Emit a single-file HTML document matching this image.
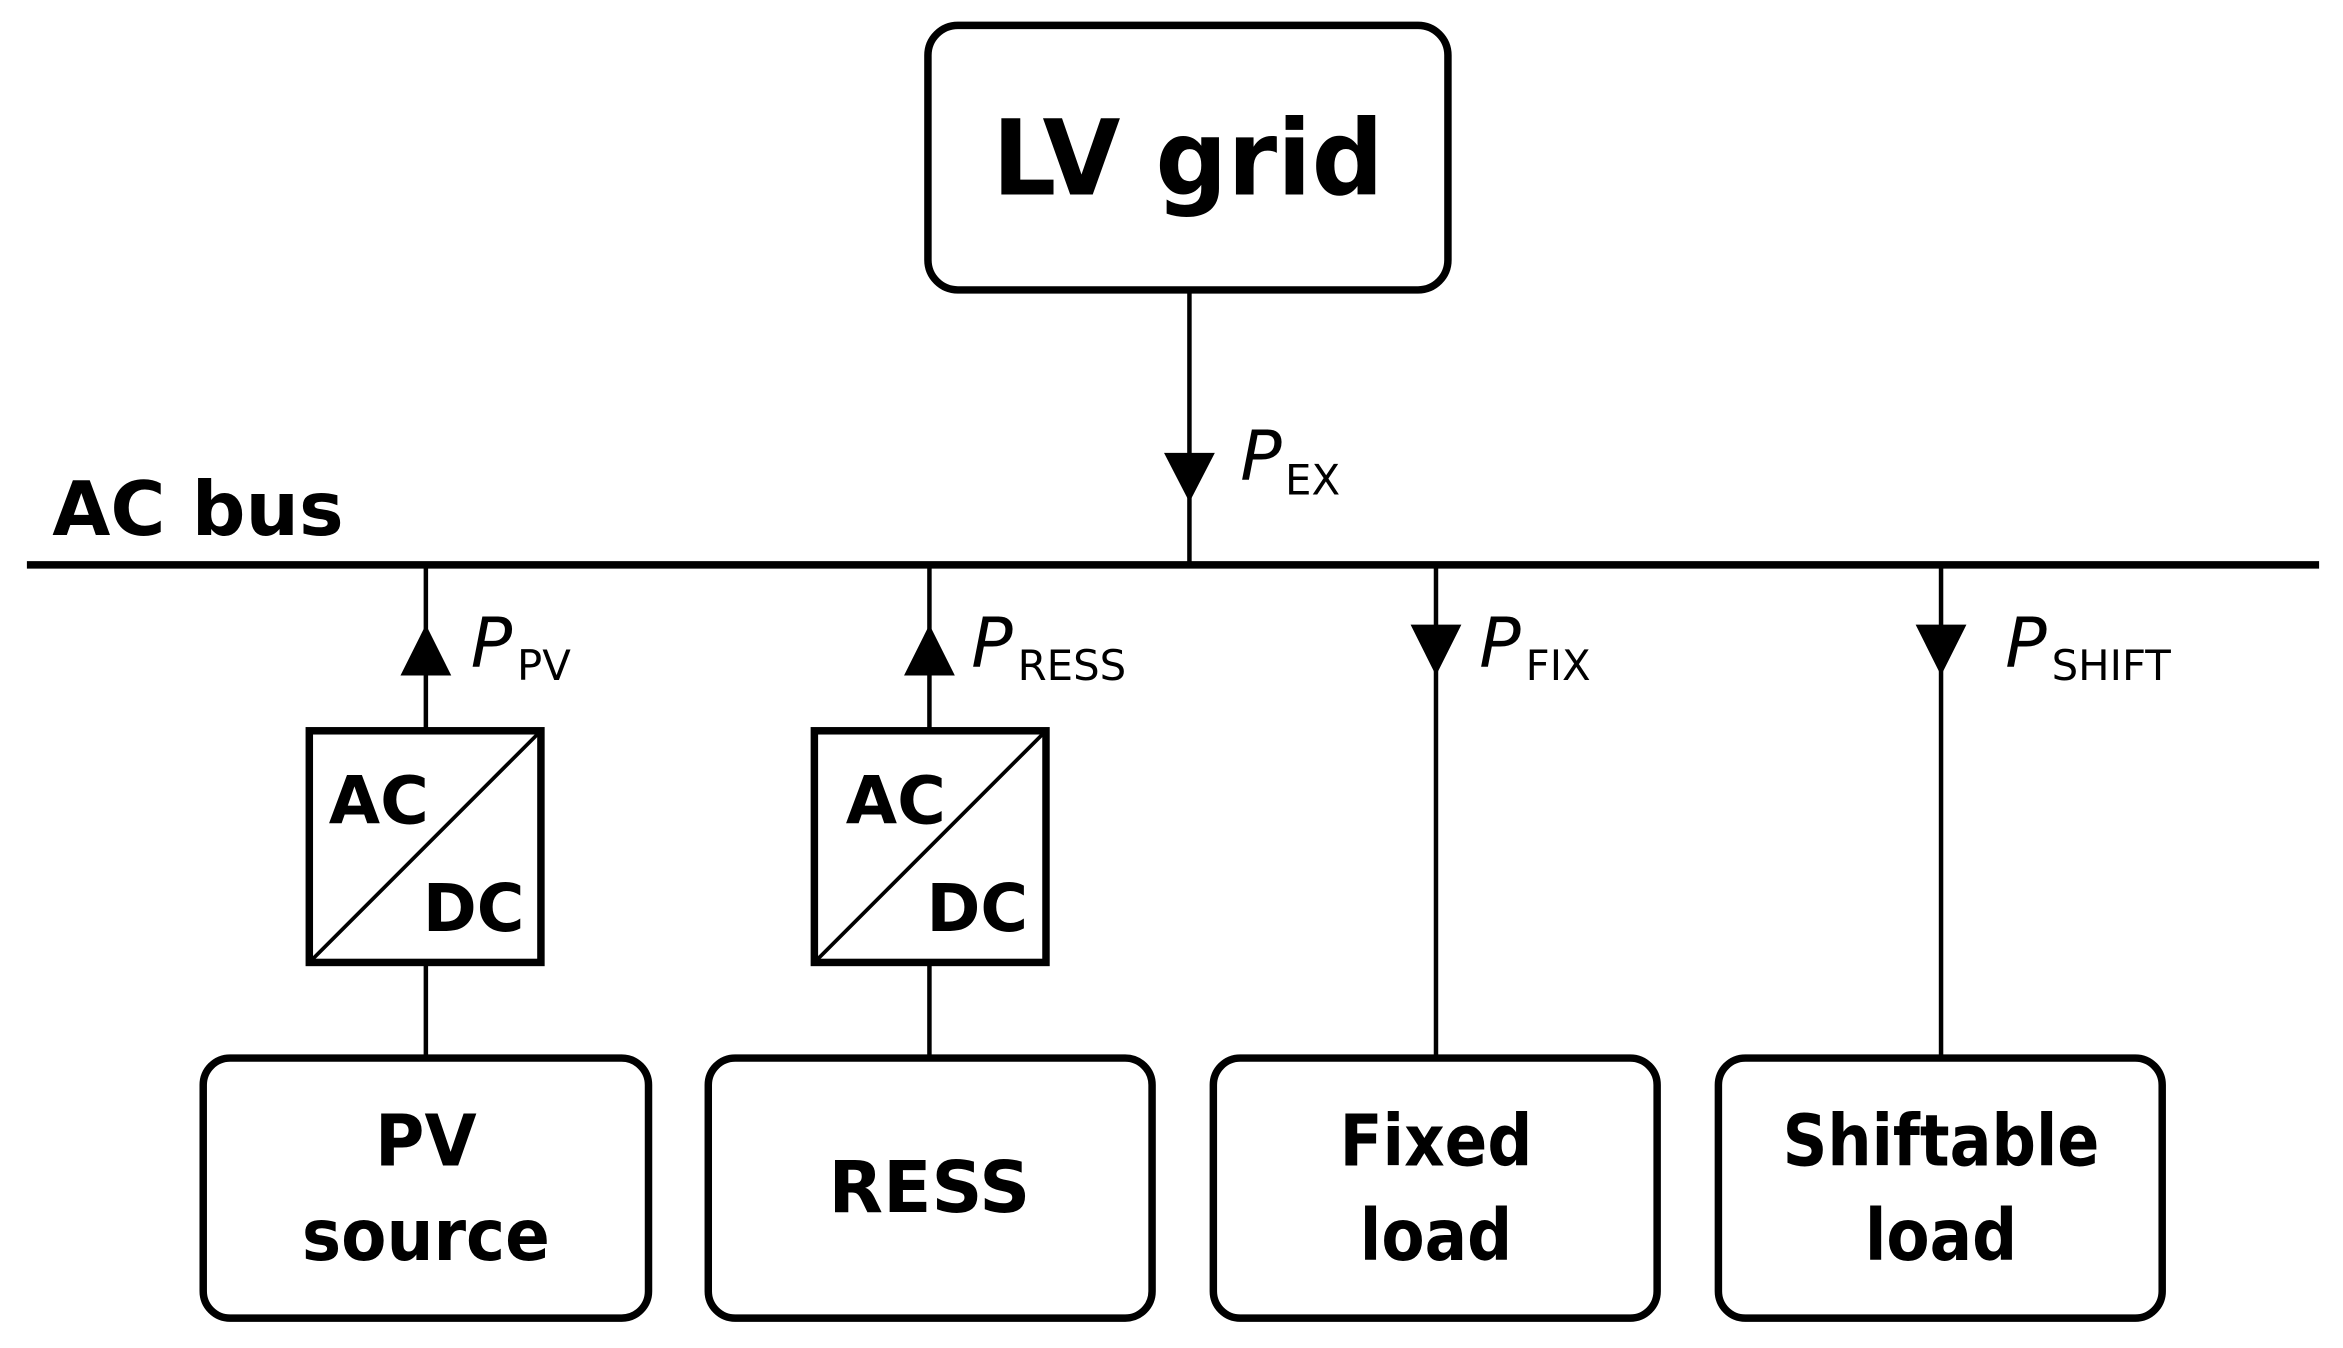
<!DOCTYPE html>
<html><head><meta charset="utf-8"><style>
html,body{margin:0;padding:0;background:#fff;}
svg{display:block;}
text{font-family:"DejaVu Sans","Liberation Sans",sans-serif;fill:#000;}
.b{font-weight:bold;}
</style></head><body>
<svg width="2343" height="1348" viewBox="0 0 1568 902" preserveAspectRatio="none" xmlns="http://www.w3.org/2000/svg">
<g fill="none" stroke="#000">
<rect x="621" y="17" width="348" height="177" rx="20" stroke-width="5"/>
<line x1="796" y1="194" x2="796" y2="378" stroke-width="3"/>
<line x1="18" y1="378" x2="1552" y2="378" stroke-width="5"/>
<line x1="285" y1="378" x2="285" y2="707" stroke-width="3"/>
<line x1="622" y1="378" x2="622" y2="707" stroke-width="3"/>
<line x1="961" y1="378" x2="961" y2="707" stroke-width="3"/>
<line x1="1299" y1="378" x2="1299" y2="707" stroke-width="3"/>
<rect x="207" y="489" width="155" height="155" fill="#fff" stroke-width="5"/>
<line x1="209" y1="642" x2="360" y2="491" stroke-width="2.5"/>
<rect x="545" y="489" width="155" height="155" fill="#fff" stroke-width="5"/>
<line x1="547" y1="642" x2="698" y2="491" stroke-width="2.5"/>
<rect x="136" y="708" width="298" height="174" rx="18" stroke-width="5"/>
<rect x="474" y="708" width="297" height="174" rx="18" stroke-width="5"/>
<rect x="812" y="708" width="297" height="174" rx="18" stroke-width="5"/>
<rect x="1150" y="708" width="297" height="174" rx="18" stroke-width="5"/>
</g>
<g fill="#000">
<polygon points="779,303 813,303 796,336"/>
<polygon points="268,452 302,452 285,418"/>
<polygon points="605,452 639,452 622,418"/>
<polygon points="944,418 978,418 961,452"/>
<polygon points="1282,418 1316,418 1299,452"/>
</g>
<text class="b" x="795" y="130" font-size="70" text-anchor="middle" textLength="262" lengthAdjust="spacingAndGlyphs">LV grid</text>
<text class="b" x="35" y="358" font-size="50" textLength="195" lengthAdjust="spacingAndGlyphs">AC bus</text>
<text x="830" y="321" font-size="46" font-style="italic">P</text><text x="860" y="331" font-size="28">EX</text>
<text x="315" y="446" font-size="46" font-style="italic">P</text><text x="346" y="455" font-size="28">PV</text>
<text x="650" y="446" font-size="46" font-style="italic">P</text><text x="681" y="455" font-size="28">RESS</text>
<text x="990" y="446" font-size="46" font-style="italic">P</text><text x="1021" y="455" font-size="28">FIX</text>
<text x="1342" y="446" font-size="46" font-style="italic">P</text><text x="1373" y="455" font-size="28">SHIFT</text>
<text class="b" x="220" y="551" font-size="44" textLength="67" lengthAdjust="spacingAndGlyphs">AC</text>
<text class="b" x="283" y="623" font-size="44" textLength="68" lengthAdjust="spacingAndGlyphs">DC</text>
<text class="b" x="566" y="551" font-size="44" textLength="67" lengthAdjust="spacingAndGlyphs">AC</text>
<text class="b" x="620" y="623" font-size="44" textLength="68" lengthAdjust="spacingAndGlyphs">DC</text>
<text class="b" x="285" y="780" font-size="48" text-anchor="middle" textLength="68" lengthAdjust="spacingAndGlyphs">PV</text>
<text class="b" x="285" y="843" font-size="48" text-anchor="middle" textLength="166" lengthAdjust="spacingAndGlyphs">source</text>
<text class="b" x="622" y="811" font-size="48" text-anchor="middle" textLength="135" lengthAdjust="spacingAndGlyphs">RESS</text>
<text class="b" x="961" y="780" font-size="48" text-anchor="middle" textLength="129" lengthAdjust="spacingAndGlyphs">Fixed</text>
<text class="b" x="961" y="843" font-size="48" text-anchor="middle" textLength="102" lengthAdjust="spacingAndGlyphs">load</text>
<text class="b" x="1299" y="780" font-size="48" text-anchor="middle" textLength="212" lengthAdjust="spacingAndGlyphs">Shiftable</text>
<text class="b" x="1299" y="843" font-size="48" text-anchor="middle" textLength="102" lengthAdjust="spacingAndGlyphs">load</text>
</svg>
</body></html>
